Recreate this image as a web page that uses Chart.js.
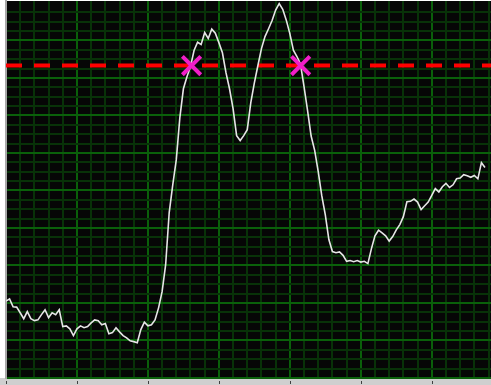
<!DOCTYPE html>
<html lang="en">
<head>
<meta charset="UTF-8">
<title>Scope trace</title>
<style>
    body {
        margin: 0;
        background: #ffffff;
    }
    #wrap {
        width: 491px;
        height: 385px;
    }
</style>
</head>
<body>
<div id="wrap">
    <canvas id="scope"></canvas>
</div>

<script src="https://cdn.jsdelivr.net/npm/chart.js"></script>
<script>
    // trace samples, one per sample index (0 = bottom of screen, 100 = top)
    const trace = [
        20.5, 21.1, 19.0, 18.9, 17.4, 15.8, 17.7, 15.8, 15.3, 15.5,
        16.9, 18.2, 16.1, 17.4, 16.9, 18.2, 13.7, 13.9, 13.1, 11.3,
        13.1, 13.9, 13.4, 13.7, 14.7, 15.5, 15.3, 14.2, 14.5, 11.8,
        12.1, 13.4, 12.3, 11.3, 10.7, 9.9, 9.7, 9.4, 12.9, 14.9,
        13.9, 14.2, 15.5, 18.7, 23.0, 30.2, 44.1, 51.5, 58.2, 69.4,
        77.1, 80.3, 83.0, 87.3, 89.5, 88.9, 92.1, 90.5, 93.0, 91.9,
        89.4, 86.7, 81.4, 77.1, 71.8, 64.6, 63.3, 64.6, 66.2, 73.4,
        78.7, 83.3, 87.8, 91.0, 93.1, 95.3, 98.1, 99.8, 98.3, 95.4,
        91.8, 87.4, 85.7, 83.7, 77.7, 71.3, 64.5, 60.7, 55.0, 48.6,
        43.5, 36.9, 33.7, 33.4, 33.6, 32.7, 31.1, 31.3, 31.0, 31.3,
        30.9, 31.1, 30.5, 34.5, 37.9, 39.4, 38.7, 37.9, 36.5, 37.7,
        39.5, 40.9, 43.0, 47.0, 47.1, 47.7, 46.9, 44.9, 45.9, 46.9,
        48.7, 50.5, 49.6, 51.0, 51.9, 50.8, 51.5, 53.1, 53.3, 54.2,
        53.9, 53.5, 54.0, 53.1, 57.4, 56.1
    ];
    const threshold = 83.3;
    // where the trace crosses the threshold
    const crossX = [52.3, 83.05];

    const xMax = 136.7;   // visible samples across the screen
    const yMax = 100.5;

    const tracePoints = trace.map((v, i) => ({ x: i, y: v }));

    const minorGrid = '#083208';
    const majorGrid = '#0a600a';

    const scopeBackground = {
        id: 'scopeBackground',
        beforeDraw(chart) {
            const { ctx, chartArea: a, width, height } = chart;
            ctx.save();
            ctx.fillStyle = '#ffffff';
            ctx.fillRect(0, 0, width, height);
            ctx.fillStyle = '#cfcfcf';
            ctx.fillRect(0, a.bottom, width, height - a.bottom);
            ctx.fillStyle = '#060606';
            ctx.fillRect(a.left, a.top, a.right - a.left, a.bottom - a.top);
            ctx.restore();
        },
        afterDraw(chart) {
            // small marks under every major division
            const { ctx, chartArea: a } = chart;
            const xs = chart.scales.x;
            ctx.save();
            ctx.strokeStyle = '#404040';
            ctx.lineWidth = 1;
            xs.ticks.forEach(t => {
                if (t.value % 20 !== 0) return;
                const px = Math.round(xs.getPixelForValue(t.value)) + 0.5;
                ctx.beginPath();
                ctx.moveTo(px, a.bottom + 3);
                ctx.lineTo(px, a.bottom + 6);
                ctx.stroke();
            });
            ctx.restore();
        }
    };

    new Chart(document.getElementById('scope'), {
        type: 'line',
        data: {
            datasets: [
                {
                    type: 'scatter',
                    data: crossX.map(x => ({ x: x, y: threshold })),
                    pointStyle: 'crossRot',
                    pointRadius: 13,
                    pointBorderWidth: 4,
                    borderColor: '#f01ec8',
                    backgroundColor: '#f01ec8',
                    order: 0
                },
                {
                    data: tracePoints,
                    borderColor: '#e6e6e6',
                    borderWidth: 1.6,
                    pointRadius: 0,
                    tension: 0,
                    order: 1
                },
                {
                    data: [{ x: 0, y: threshold }, { x: xMax, y: threshold }],
                    borderColor: '#ff0000',
                    borderWidth: 4,
                    borderDash: [16, 12],
                    borderCapStyle: 'butt',
                    pointRadius: 0,
                    order: 2
                }
            ]
        },
        options: {
            responsive: true,
            maintainAspectRatio: false,
            animation: false,
            layout: {
                autoPadding: false,
                padding: { left: 6, top: 1, right: 0, bottom: 0 }
            },
            plugins: {
                legend: { display: false },
                tooltip: { enabled: false }
            },
            scales: {
                x: {
                    type: 'linear',
                    position: 'bottom',
                    min: 0,
                    max: xMax,
                    ticks: { display: false, stepSize: 4, includeBounds: false },
                    grid: {
                        color: ctx => ctx.tick.value % 20 === 0 ? majorGrid : minorGrid,
                        lineWidth: 2,
                        drawTicks: true,
                        tickLength: 7,
                        tickColor: 'rgba(0,0,0,0)'
                    },
                    border: { display: false }
                },
                y: {
                    type: 'linear',
                    position: 'left',
                    min: 0,
                    max: yMax,
                    ticks: { display: false, stepSize: 2.5, includeBounds: false },
                    grid: {
                        color: ctx => {
                            const v = ctx.tick.value;
                            if (v > 99) return 'rgba(0,0,0,0)';
                            return v % 10 === 0 ? majorGrid : minorGrid;
                        },
                        lineWidth: 2,
                        drawTicks: false
                    },
                    border: { display: true, color: '#a8a8a8', width: 2 }
                }
            }
        },
        plugins: [scopeBackground]
    });
</script>
</body>
</html>
